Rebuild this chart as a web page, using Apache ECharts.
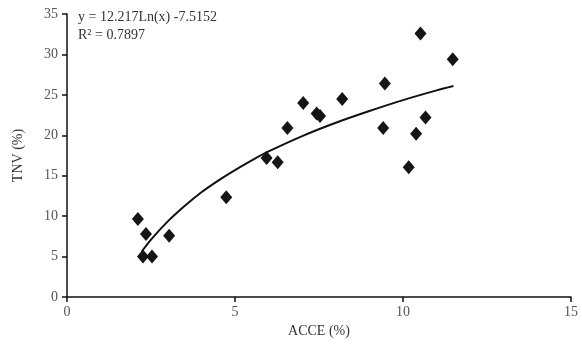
<!DOCTYPE html>
<html><head><meta charset="utf-8">
<script src="https://cdn.jsdelivr.net/npm/echarts@6/dist/echarts.min.js"></script>
<style>html,body{margin:0;padding:0;background:#fff}#c{width:582px;height:351px}</style>
</head><body><div id="c"></div>
<script>
const acce = [2.11, 2.26, 2.35, 2.53, 3.04, 4.74, 5.94, 6.27, 6.56, 7.03, 7.43, 7.53, 8.19, 9.41, 9.46, 10.17, 10.39, 10.52, 10.67, 11.48];
const tnv  = [9.65, 5.0, 7.8, 5.0, 7.58, 12.35, 17.2, 16.65, 20.9, 24.0, 22.7, 22.4, 24.5, 20.9, 26.4, 16.05, 20.2, 32.6, 22.2, 29.4];
const trendX = [2.22, 2.5, 3, 3.5, 4, 4.5, 5, 5.5, 6, 7, 8, 9, 10, 11, 11.5];
const trendY = [5.6, 7.1, 9.35, 11.25, 12.95, 14.4, 15.7, 16.9, 18.0, 19.9, 21.55, 23.0, 24.35, 25.55, 26.1];
const eqText = 'y = 12.217Ln(x) -7.5152';
const r2Text = 'R\u00B2 = 0.7897';

const font = '"Liberation Serif", "DejaVu Serif", serif';
const chart = echarts.init(document.getElementById('c'));
chart.setOption({
  animation: false,
  backgroundColor: '#fff',
  grid: {left: 67, right: 11, top: 14, bottom: 54},
  xAxis: {
    type: 'value', min: 0, max: 15, interval: 5,
    name: 'ACCE (%)', nameLocation: 'middle', nameGap: 23,
    nameTextStyle: {fontFamily: font, fontSize: 14, color: '#333'},
    axisLine: {lineStyle: {color: '#111', width: 1.5}},
    axisTick: {show: true, length: 5, lineStyle: {color: '#111', width: 1.5}},
    axisLabel: {fontFamily: font, fontSize: 14, color: '#555', margin: 8},
    splitLine: {show: false}
  },
  yAxis: {
    type: 'value', min: 0, max: 35, interval: 5,
    name: 'TNV (%)', nameLocation: 'middle', nameGap: 42, nameRotate: 90,
    nameTextStyle: {fontFamily: font, fontSize: 14, color: '#333'},
    axisLine: {show: true, lineStyle: {color: '#111', width: 1.5}},
    axisTick: {show: true, length: 5, lineStyle: {color: '#111', width: 1.5}},
    axisLabel: {fontFamily: font, fontSize: 14, color: '#555', margin: 9},
    splitLine: {show: false}
  },
  graphic: [
    {type: 'text', left: 78, top: 10, style: {text: eqText, font: '14px ' + font, fill: '#333'}},
    {type: 'text', left: 78, top: 28, style: {text: r2Text, font: '14px ' + font, fill: '#333'}}
  ],
  series: [
    {
      type: 'line', smooth: 0.3, symbol: 'none',
      data: trendX.map((x, i) => [x, trendY[i]]),
      lineStyle: {color: '#111', width: 2}, z: 1
    },
    {
      type: 'scatter', symbol: 'diamond', symbolSize: [12, 14],
      data: acce.map((x, i) => [x, tnv[i]]),
      itemStyle: {color: '#151515', opacity: 1}, z: 2
    }
  ]
});
</script></body></html>
